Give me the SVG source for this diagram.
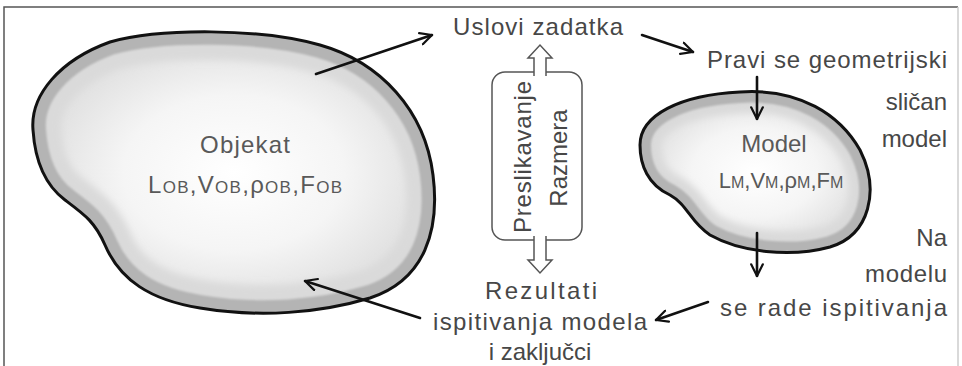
<svg xmlns="http://www.w3.org/2000/svg" width="962" height="366" viewBox="0 0 962 366">
<style>
.t{font-family:"Liberation Sans",Arial,sans-serif;font-size:24px;fill:#474747}
.in{fill:#595959}
.sub{font-size:17px}
.blob-out{fill:none;stroke:#111;stroke-width:3}
.conn{fill:none;stroke:#111;stroke-width:2.6;stroke-linecap:round}
.box{fill:#fff;stroke:#555;stroke-width:1.5}
</style>
<defs>
<marker id="ah" viewBox="0 0 12 12" refX="11" refY="6" markerWidth="14" markerHeight="14" markerUnits="userSpaceOnUse" orient="auto">
<path d="M1,1 L11,6 L1,11" fill="none" stroke="#111" stroke-width="1.9" stroke-linecap="round" stroke-linejoin="round"/>
</marker>
<radialGradient id="g1" cx="0.5" cy="0.5" r="0.55">
<stop offset="0" stop-color="#ffffff"/>
<stop offset="0.5" stop-color="#f5f5f5"/>
<stop offset="0.85" stop-color="#e2e2e2"/>
<stop offset="1" stop-color="#d6d6d6"/>
</radialGradient>
<filter id="bl" x="-10%" y="-10%" width="120%" height="120%"><feGaussianBlur stdDeviation="3.5"/></filter>
<filter id="bl2" x="-10%" y="-10%" width="120%" height="120%"><feGaussianBlur stdDeviation="1.2"/></filter>
<path id="bigP" d="M33,130 C30,95 60,60 110,42 C160,28 260,28 320,45 C380,62 425,110 433,175 C440,230 425,280 370,298 C320,313 260,318 200,308 C150,300 120,280 105,245 C95,222 85,215 65,200 C45,185 35,160 33,130 Z"/>
<path id="smP" d="M640,145 C640,115 680,95 740,92 C800,88 840,115 860,150 C880,190 870,235 830,247 C790,258 740,252 710,235 C690,222 688,205 670,195 C648,185 640,165 640,145 Z"/>
<clipPath id="cBig"><use href="#bigP"/></clipPath>
<clipPath id="cSm"><use href="#smP"/></clipPath>
</defs>
<rect width="962" height="366" fill="#fff"/>
<path d="M4,366 L4,7 L958,7" fill="none" stroke="#555" stroke-width="1.5"/>
<line x1="958" y1="7" x2="958" y2="366" stroke="#ccc" stroke-width="1.5"/>

<g id="objekat">
<use href="#bigP" fill="url(#g1)"/>
<g clip-path="url(#cBig)">
<use href="#bigP" fill="none" stroke="#dadada" stroke-width="56" filter="url(#bl)"/>
<use href="#bigP" fill="none" stroke="#b4b4b4" stroke-width="26" filter="url(#bl2)"/>
</g>
<use href="#bigP" class="blob-out"/>
<text class="t in" x="245" y="153" text-anchor="middle" textLength="90">Objekat</text>
<text class="t in" x="245" y="193" text-anchor="middle" textLength="194">L<tspan class="sub">OB</tspan>,V<tspan class="sub">OB</tspan>,ρ<tspan class="sub">OB</tspan>,F<tspan class="sub">OB</tspan></text>
</g>

<g id="model">
<use href="#smP" fill="url(#g1)"/>
<g clip-path="url(#cSm)">
<use href="#smP" fill="none" stroke="#dadada" stroke-width="42" filter="url(#bl)"/>
<use href="#smP" fill="none" stroke="#b4b4b4" stroke-width="22" filter="url(#bl2)"/>
</g>
<use href="#smP" class="blob-out"/>
<text class="t in" x="774" y="152" text-anchor="middle">Model</text>
<text class="t in" x="781" y="188" text-anchor="middle" style="font-size:22px">L<tspan style="font-size:16px">M</tspan>,V<tspan style="font-size:16px">M</tspan>,ρ<tspan style="font-size:16px">M</tspan>,F<tspan style="font-size:16px">M</tspan></text>
</g>

<g id="uslovi">
<text class="t" x="538" y="35" text-anchor="middle" textLength="170">Uslovi zadatka</text>
</g>

<g id="pravi">
<text class="t" x="947" y="68" text-anchor="end" textLength="240">Pravi se geometrijski</text>
<text class="t" x="947" y="110" text-anchor="end">sličan</text>
<text class="t" x="947" y="147" text-anchor="end">model</text>
</g>

<g id="na-modelu">
<text class="t" x="947" y="246" text-anchor="end">Na</text>
<text class="t" x="947" y="282" text-anchor="end" textLength="82">modelu</text>
<text class="t" x="947" y="316" text-anchor="end" textLength="227">se rade ispitivanja</text>
</g>

<g id="rezultati">
<text class="t" x="541" y="299" text-anchor="middle" textLength="112">Rezultati</text>
<text class="t" x="540" y="330" text-anchor="middle" textLength="214">ispitivanja modela</text>
<text class="t" x="540" y="360" text-anchor="middle">i zaključci</text>
</g>

<g id="preslikavanje">
<rect class="box" x="492" y="72" width="90" height="168" rx="13"/>
<polygon points="534,76 534,58 528,58 540,45 552,58 546,58 546,76" fill="#fff"/>
<polyline points="534,76 534,58 528,58 540,45 552,58 546,58 546,76" fill="none" stroke="#555" stroke-width="1.5"/>
<polygon points="534,236 534,260 528,260 540,273 552,260 546,260 546,236" fill="#fff"/>
<polyline points="534,236 534,260 528,260 540,273 552,260 546,260 546,236" fill="none" stroke="#555" stroke-width="1.5"/>
<text class="t" transform="translate(531,157) rotate(-90)" text-anchor="middle" textLength="152">Preslikavanje</text>
<text class="t" transform="translate(567,158) rotate(-90)" text-anchor="middle">Razmera</text>
</g>

<g id="connectors">
<line class="conn" x1="316" y1="74" x2="432" y2="35" marker-end="url(#ah)"/>
<line class="conn" x1="642" y1="35" x2="693" y2="52" marker-end="url(#ah)"/>
<line class="conn" x1="757" y1="77" x2="757" y2="119" marker-end="url(#ah)"/>
<line class="conn" x1="757" y1="233" x2="757" y2="276" marker-end="url(#ah)"/>
<line class="conn" x1="708" y1="302" x2="656" y2="320" marker-end="url(#ah)"/>
<line class="conn" x1="420" y1="318" x2="305" y2="281" marker-end="url(#ah)"/>
</g>
</svg>
